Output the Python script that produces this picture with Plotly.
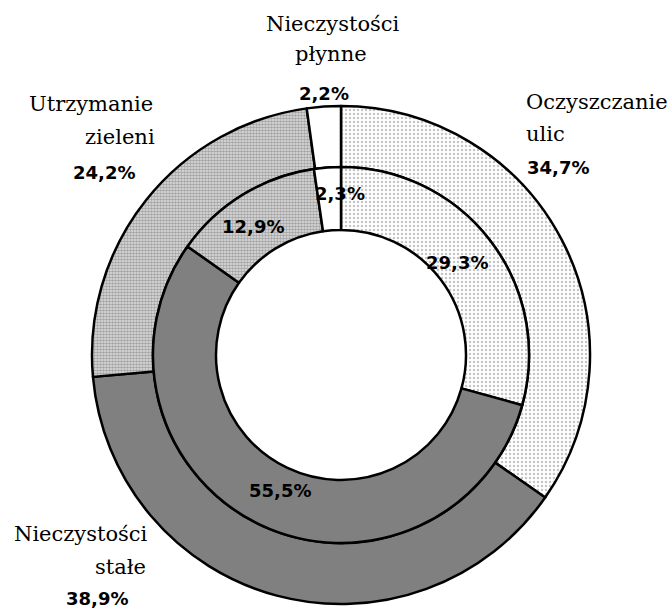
import plotly.graph_objects as go

# Cost structure: outer ring and inner ring shares (%)
categories = ["Oczyszczanie ulic", "Nieczystości stałe", "Utrzymanie zieleni", "Nieczystości płynne"]
label_lines = [["Oczyszczanie", "ulic"], ["Nieczystości", "stałe"], ["Utrzymanie", "zieleni"], ["Nieczystości", "płynne"]]
outer_share = [34.7, 38.9, 24.2, 2.2]
inner_share = [29.3, 55.5, 12.9, 2.3]

W, H = 670, 608
CX, CY = 341, 355
R_OUT, R_MID, R_IN = 249, 188, 125

fills = ["white", "#808080", "white", "white"]
patterns = dict(
    shape=[".", "", ".", ""],
    fgcolor=["#8a8a8a", "#808080", "#666666", "white"],
    bgcolor=["white", "#808080", "#e0e0e0", "white"],
    size=[4, 4, 3, 4],
    solidity=[0.3, 0.0, 0.55, 0.0],
    fillmode="overlay",
)


def dom(r):
    return dict(
        x=[(CX - r) / W, (CX + r) / W],
        y=[(H - CY - r) / H, (H - CY + r) / H],
    )


def ring(values, r_outer, r_inner):
    return go.Pie(
        labels=categories,
        values=values,
        sort=False,
        direction="clockwise",
        rotation=0,
        hole=r_inner / r_outer,
        domain=dom(r_outer),
        textinfo="none",
        hoverinfo="label+percent",
        marker=dict(colors=fills, pattern=patterns, line=dict(color="black", width=2.5)),
        showlegend=False,
    )


fig = go.Figure([ring(outer_share, R_OUT, R_MID), ring(inner_share, R_MID, R_IN)])


def pct(v):
    return f"{v:.1f}%".replace(".", ",")


LABEL_FONT = dict(family="DejaVu Serif", size=21, color="black")
PCT_FONT = dict(family="DejaVu Sans", size=18, color="black", weight="bold")

annotations = []


def add(text, x, y, anchor, font):
    annotations.append(dict(
        text=text, x=x / W, y=1 - y / H, xref="paper", yref="paper",
        xanchor=anchor, yanchor="middle", showarrow=False, font=font,
    ))


# outer ring labels: (x, anchor, y of line 1, y of line 2, x of value, anchor, y of value)
outer_pos = [
    (524, "left", 102, 134, 525, "left", 167),
    (150, "right", 534, 567, 130, "right", 598),
    (155, "right", 104, 137, 137, "right", 172),
    (333, "center", 24, 54, 324, "center", 93),
]
second_x = [524, 148, 157, 331]

for i, (lx, anc, y1, y2, vx, vanc, vy) in enumerate(outer_pos):
    add(label_lines[i][0], lx, y1, anc, LABEL_FONT)
    add(label_lines[i][1], second_x[i], y2, anc, LABEL_FONT)
    add(pct(outer_share[i]), vx, vy, vanc, PCT_FONT)

# inner ring values
inner_pos = [(457, 262), (280, 490), (253, 226), (340, 194)]
for v, (x, y) in zip(inner_share, inner_pos):
    add(pct(v), x, y, "center", PCT_FONT)

fig.update_layout(
    width=W, height=H,
    margin=dict(l=0, r=0, t=0, b=0),
    paper_bgcolor="white",
    plot_bgcolor="white",
    annotations=annotations,
)

fig.write_html("out.html")
